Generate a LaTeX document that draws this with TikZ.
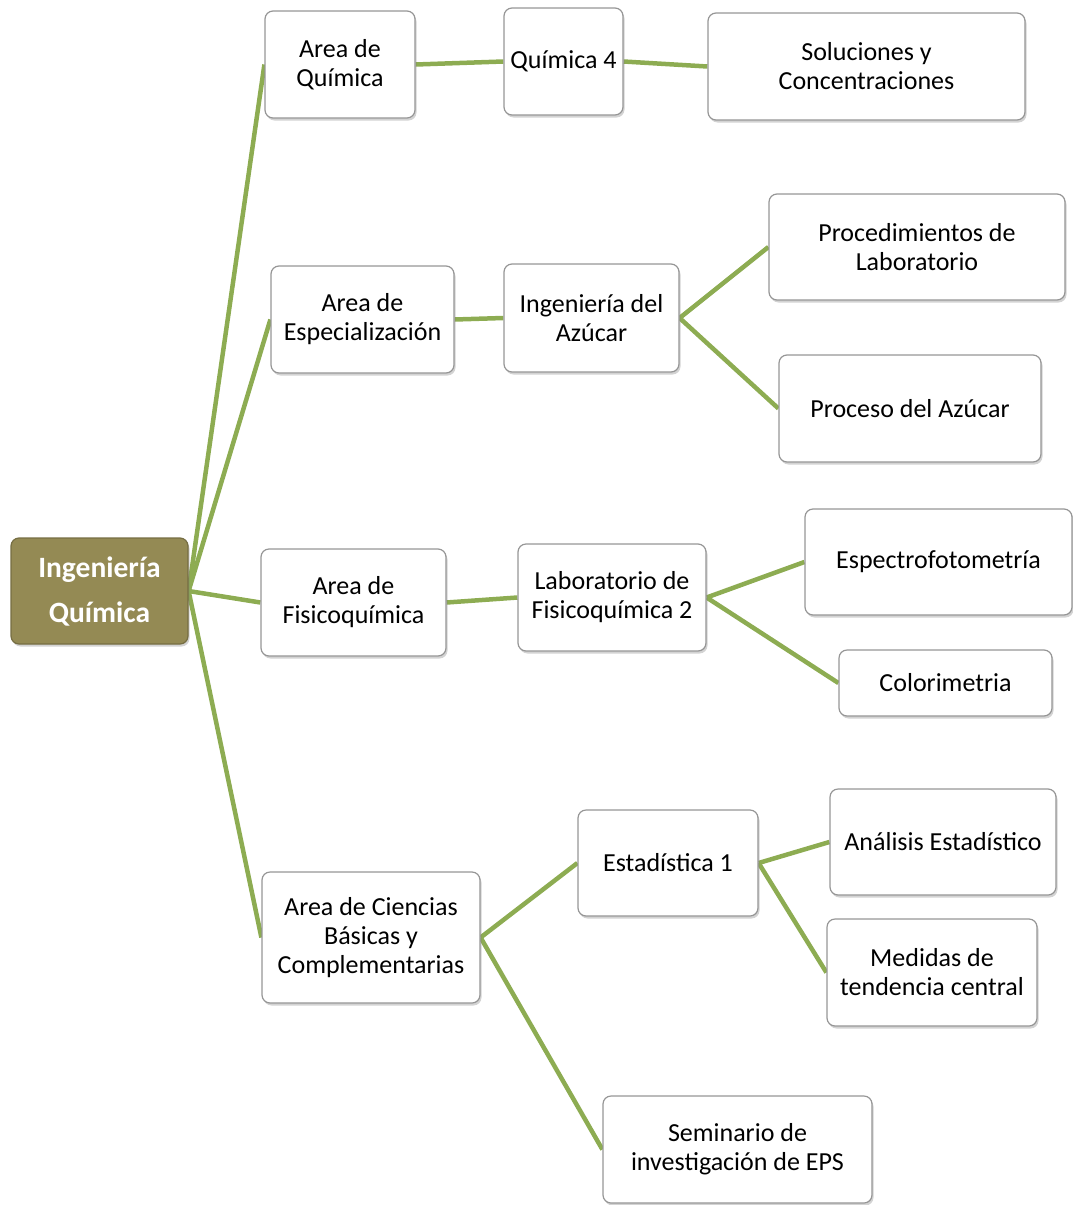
\documentclass[tikz,border=0pt]{standalone}
\usepackage{fontspec}
\setmainfont{Carlito}
\usetikzlibrary{shadows, backgrounds}
\definecolor{olivebox}{RGB}{148,138,84}
\definecolor{branch}{RGB}{141,172,82}
\definecolor{boxline}{RGB}{150,150,150}

\begin{document}
\begin{tikzpicture}[
      x=1pt, y=-1pt,
      box/.style={draw=boxline, line width=1.2pt, fill=white, rounded corners=8pt,
                  align=center, inner sep=0pt, font=\fontsize{26}{29}\selectfont,
                  drop shadow={opacity=0.35, shadow xshift=1.5pt, shadow yshift=-2.5pt}},
      rootbox/.style={box, fill=olivebox, draw=olivebox!80!black, text=white,
                  font=\fontsize{29.5}{45}\selectfont\bfseries},
      ln/.style={draw=branch, line width=4.5pt}
    ]
    \useasboundingbox (0,0) rectangle (1073,1205);
    \node[rootbox, minimum width=177pt, minimum height=106pt] (iq) at (99.5,591) {Ingeniería\\Química};
    \node[box, minimum width=150pt, minimum height=107pt] (aq) at (340,64.5) {Area de\\Química};
    \node[box, minimum width=119pt, minimum height=107pt] (q4) at (563.5,61.5) {Química 4};
    \node[box, minimum width=317pt, minimum height=107pt] (sol) at (866.5,66.5) {Soluciones y\\Concentraciones};
    \node[box, minimum width=183pt, minimum height=107pt] (ae) at (362.5,319.5) {Area de\\Especialización};
    \node[box, minimum width=175pt, minimum height=108pt] (ia) at (591.5,318) {Ingeniería del\\Azúcar};
    \node[box, minimum width=296pt, minimum height=106pt] (proc) at (917,247) {Procedimientos de\\Laboratorio};
    \node[box, minimum width=262pt, minimum height=107pt] (pa) at (910,408.5) {Proceso del Azúcar};
    \node[box, minimum width=185pt, minimum height=107pt] (af) at (353.5,602.5) {Area de\\Fisicoquímica};
    \node[box, minimum width=188pt, minimum height=107pt] (lf) at (612,597.5) {Laboratorio de\\Fisicoquímica 2};
    \node[box, minimum width=267pt, minimum height=106pt] (esp) at (938.5,562) {Espectrofotometría};
    \node[box, minimum width=213pt, minimum height=66pt] (col) at (945.5,683) {Colorimetria};
    \node[box, minimum width=218pt, minimum height=131pt] (acb) at (371,937.5) {Area de Ciencias\\Básicas y\\Complementarias};
    \node[box, minimum width=180pt, minimum height=106pt] (est) at (668,863) {Estadística 1};
    \node[box, minimum width=226pt, minimum height=106pt] (ane) at (943,842) {Análisis Estadístico};
    \node[box, minimum width=210pt, minimum height=107pt] (med) at (932,972.5) {Medidas de\\tendencia central};
    \node[box, minimum width=269pt, minimum height=107pt] (sem) at (737.5,1149.5) {Seminario de\\investigación de EPS};
    \begin{scope}[on background layer]
      \draw[ln] (iq.east)--(aq.west); \draw[ln] (iq.east)--(ae.west);
      \draw[ln] (iq.east)--(af.west); \draw[ln] (iq.east)--(acb.west);
      \draw[ln] (aq.east)--(q4.west); \draw[ln] (q4.east)--(sol.west);
      \draw[ln] (ae.east)--(ia.west); \draw[ln] (ia.east)--(proc.west);
      \draw[ln] (ia.east)--(pa.west);
      \draw[ln] (af.east)--(lf.west); \draw[ln] (lf.east)--(esp.west);
      \draw[ln] (lf.east)--(col.west);
      \draw[ln] (acb.east)--(est.west); \draw[ln] (acb.east)--(sem.west);
      \draw[ln] (est.east)--(ane.west); \draw[ln] (est.east)--(med.west);
    \end{scope}
  \end{tikzpicture}
\end{document}
